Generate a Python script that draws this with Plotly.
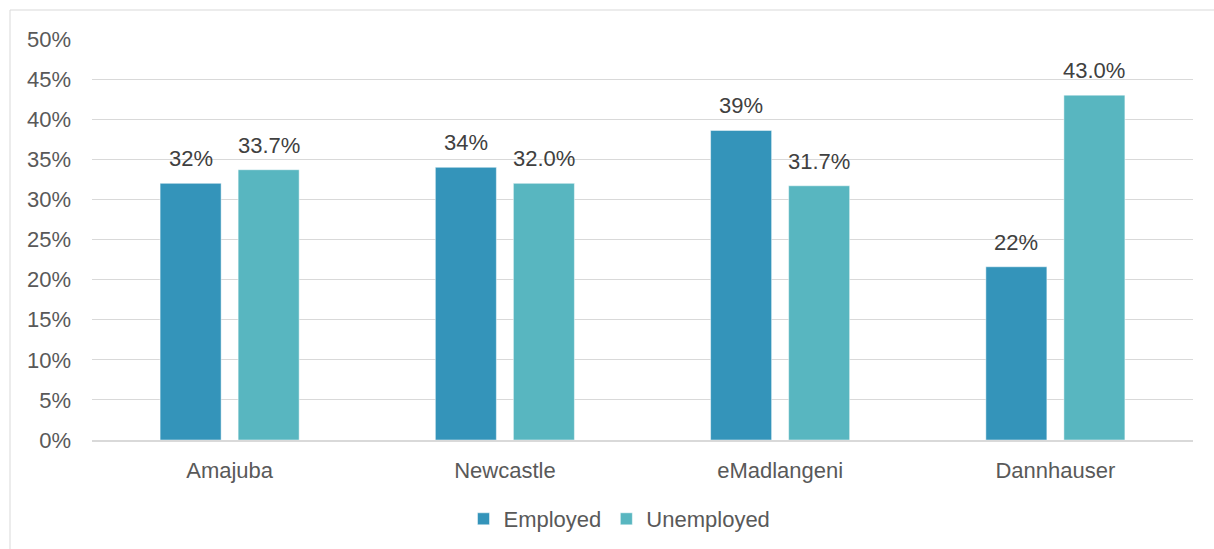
import plotly.graph_objects as go

# Municipalities and employment shares (%)
categories = ["Amajuba", "Newcastle", "eMadlangeni", "Dannhauser"]
employed = [32.0, 34.0, 38.6, 21.6]
unemployed = [33.7, 32.0, 31.7, 43.0]
y_ticks = [0, 5, 10, 15, 20, 25, 30, 35, 40, 45, 50]
y_tick_labels = [f"{v}%" for v in y_ticks]

FONT = "Liberation Sans"
FS = 22
W, H = 1214, 549
L, R, T, B = 92, 21, 39, 109
pw = W - L - R
ph = H - T - B

BARGAP = 0.433
GROUPGAP = 0.218
cat_px = pw / len(categories)
slot_px = cat_px * (1 - BARGAP) / 2  # width reserved for each series in a group

fig = go.Figure()
series = [
    ("Employed", employed, "#3494BA", "{:.0f}%", -0.5),
    ("Unemployed", unemployed, "#58B6C0", "{:.1f}%", 0.5),
]
for name, vals, color, fmt, side in series:
    fig.add_trace(go.Bar(
        name=name, x=categories, y=vals,
        marker=dict(color=color, line=dict(color="rgba(255,255,255,0.6)", width=0.8)),
    ))
    # value labels above each bar
    for cat, v in zip(categories, vals):
        fig.add_annotation(
            x=cat, y=v, xref="x", yref="y",
            text=fmt.format(v), showarrow=False,
            xanchor="center", yanchor="bottom",
            xshift=side * slot_px, yshift=10,
            font=dict(family=FONT, size=FS, color="#404040"),
        )

fig.update_layout(
    width=W, height=H,
    margin=dict(l=L, r=R, t=T, b=B, autoexpand=False),
    paper_bgcolor="white", plot_bgcolor="white",
    barmode="group", bargap=BARGAP, bargroupgap=GROUPGAP,
    font=dict(family=FONT, size=FS, color="#595959"),
    showlegend=True,
    legend=dict(
        orientation="h", x=(619.5 - L) / pw, xanchor="center",
        y=(440 - 519) / ph, yanchor="middle",
        font=dict(family=FONT, size=FS, color="#595959"),
        itemwidth=30, bgcolor="rgba(0,0,0,0)",
    ),
    xaxis=dict(
        showgrid=False, showline=True, linecolor="#d9d9d9", linewidth=1.5,
        ticks="", ticklabelstandoff=10, automargin=False,
        tickfont=dict(family=FONT, size=FS, color="#595959"),
    ),
    yaxis=dict(
        range=[0, 50], tickvals=y_ticks, ticktext=y_tick_labels,
        showgrid=True, gridcolor="#d9d9d9", gridwidth=1,
        zeroline=False, showline=False, ticks="",
        ticklabelstandoff=20, automargin=False,
        tickfont=dict(family=FONT, size=FS, color="#595959"),
    ),
    shapes=[dict(
        type="rect", xref="paper", yref="paper",
        x0=(10 - L) / pw, x1=1.2, y0=-0.5, y1=1 + (T - 10) / ph,
        line=dict(color="#d9d9d9", width=1), fillcolor="rgba(0,0,0,0)",
        layer="below",
    )],
)

fig.write_html("out.html")
